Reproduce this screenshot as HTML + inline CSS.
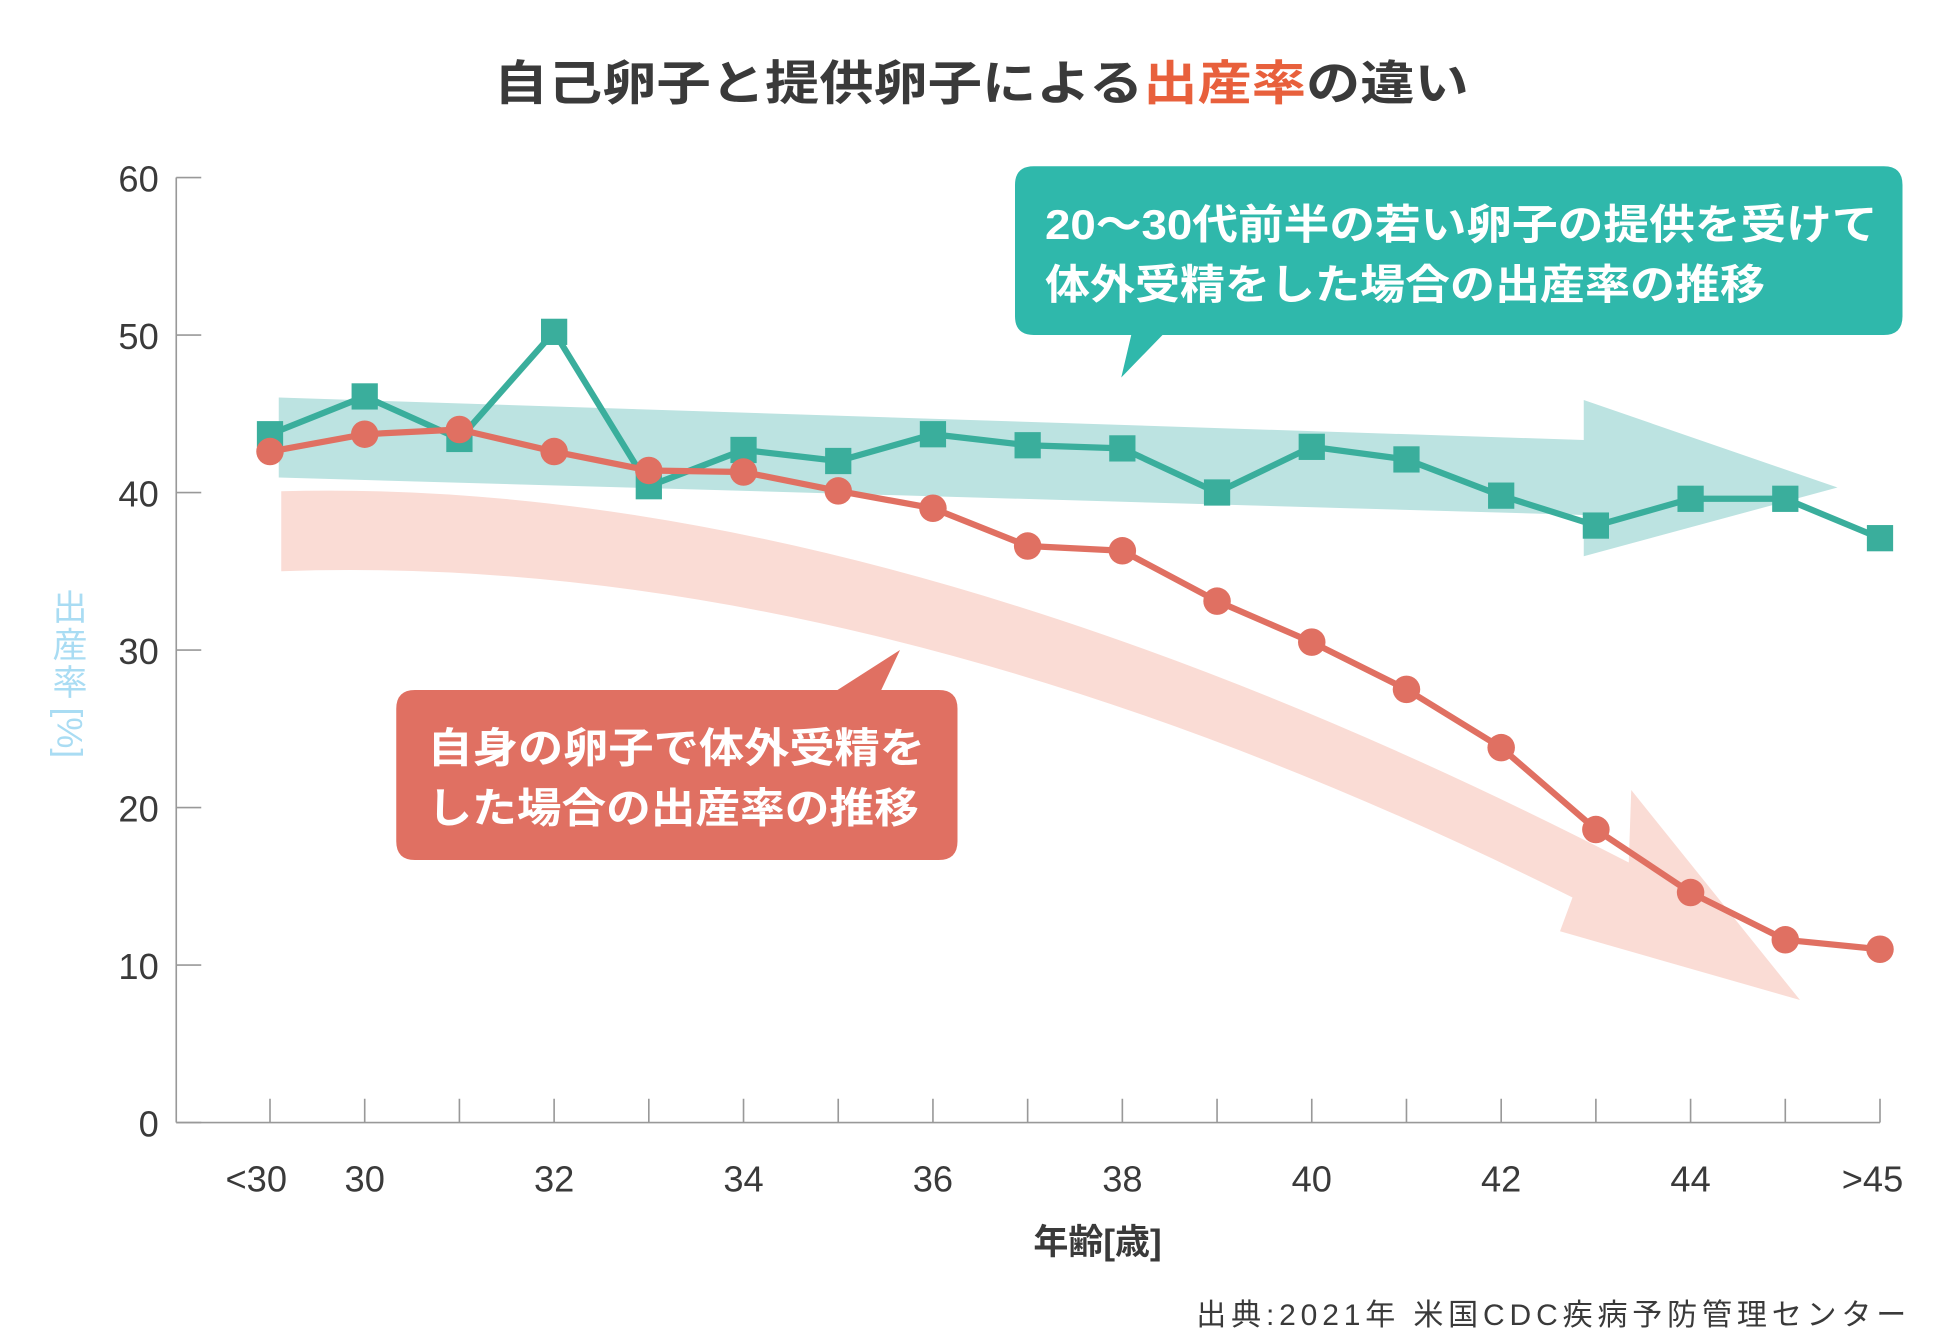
<!DOCTYPE html>
<html><head><meta charset="utf-8"><style>
html,body{margin:0;padding:0;background:#fff;}
svg{display:block;}
text{font-family:"Liberation Sans","Noto Sans CJK JP",sans-serif;}
</style></head><body>
<svg id="chart" width="1950" height="1344" viewBox="0 0 1560 1075.2" xmlns="http://www.w3.org/2000/svg">
<text x="395" y="80" font-size="38" font-weight="bold" fill="#3a3a3a" textLength="780" lengthAdjust="spacingAndGlyphs">自己卵子と提供卵子による<tspan fill="#e8603c">出産率</tspan>の違い</text>
<path d="M223,318 L1267,352 L1267,320 L1470,390 L1267,445 L1267,412 L223,382 Z" fill="#bce3e1"/>
<path d="M225,393 Q700,380 1303,690 L1305,632 L1440,800 L1248,745 L1258,718 Q700,440 225,457 Z" fill="#fadcd5"/>
<g id="axes"></g>
<g id="series"></g>
<path d="M827,133 H1507 Q1522,133 1522,148 V253 Q1522,268 1507,268 H930 L897,302 L905,268 H827 Q812,268 812,253 V148 Q812,133 827,133 Z" fill="#2fb8ab"/>
<text font-size="33" font-weight="bold" fill="#fff"><tspan x="836" y="191" textLength="666" lengthAdjust="spacingAndGlyphs">20～30代前半の若い卵子の提供を受けて</tspan><tspan x="836" y="239" textLength="576" lengthAdjust="spacingAndGlyphs">体外受精をした場合の出産率の推移</tspan></text>
<path d="M332,552 H670 L720,520 L705,552 H751 Q766,552 766,567 V673 Q766,688 751,688 H332 Q317,688 317,673 V567 Q317,552 332,552 Z" fill="#e07062"/>
<text font-size="33" font-weight="bold" fill="#fff"><tspan x="342" y="610" textLength="398" lengthAdjust="spacingAndGlyphs">自身の卵子で体外受精を</tspan><tspan x="342" y="658" textLength="393" lengthAdjust="spacingAndGlyphs">した場合の出産率の推移</tspan></text>
<g fill="#a9dcf3" font-size="28">
<text x="56" y="496" text-anchor="middle">出</text>
<text x="56" y="526" text-anchor="middle">産</text>
<text x="56" y="556" text-anchor="middle">率</text>
<text transform="translate(46,566) rotate(90)" font-size="28">[%]</text>
</g>
<text x="878" y="1003" text-anchor="middle" font-size="28" font-weight="bold" fill="#3a3a3a">年齢[歳]</text>
<text x="957" y="1060" font-size="24" fill="#3a3a3a" textLength="568" lengthAdjust="spacing">出典:2021年 米国CDC疾病予防管理センター</text>
</svg>
<script>
const categories=['<30','30','31','32','33','34','35','36','37','38','39','40','41','42','43','44','45','>45'];
const tickLabelIdx=[0,1,3,5,7,9,11,13,15,17];
const yTicks=[0,10,20,30,40,50,60];
const donorRates=[43.7,46.1,43.4,50.2,40.4,42.7,42.0,43.7,43.0,42.8,40.0,42.9,42.1,39.8,37.9,39.6,39.6,37.1];
const ownRates=[42.6,43.7,44.0,42.6,41.4,41.3,40.1,39.0,36.6,36.3,33.1,30.5,27.5,23.8,18.6,14.6,11.6,11.0];
const NS='http://www.w3.org/2000/svg';
const X0=216,X1=1504,Y0=898,Y60=142;
function xs(i){return X0+(X1-X0)*i/(categories.length-1);}
function ys(v){return Y0-(Y0-Y60)*v/60;}
function mk(tag,attrs,parent){const e=document.createElementNS(NS,tag);for(const k in attrs)e.setAttribute(k,attrs[k]);parent.appendChild(e);return e;}
const axes=document.getElementById('axes'),ser=document.getElementById('series');
let e=mk('line',{x1:141,y1:Y60,x2:141,y2:Y0,stroke:'#999','stroke-width':1.3},axes);


e=mk('line',{x1:141,y1:Y0,x2:X1,y2:Y0,stroke:'#999','stroke-width':1.3},axes);


yTicks.forEach(v=>{
  let t=mk('line',{x1:141,y1:ys(v),x2:161,y2:ys(v),stroke:'#999','stroke-width':1.3},axes);
  
  
  let l=mk('text',{x:127,y:ys(v)+11,'text-anchor':'end','font-size':29,fill:'#3a3a3a'},axes);
  l.textContent=v;
  
  
});
categories.forEach((c,i)=>{
  let t=mk('line',{x1:xs(i),y1:Y0-19,x2:xs(i),y2:Y0,stroke:'#999','stroke-width':1.3},axes);
  
  
});
tickLabelIdx.forEach(i=>{
  let l=mk('text',{x:xs(i)-(i===0?11:0)+(i===17?-6:0),y:953,'text-anchor':'middle','font-size':29,fill:'#3a3a3a'},axes);
  l.textContent=categories[i];
  
  
});
function pts(arr){return arr.map((v,i)=>xs(i)+','+ys(v)).join(' ');}
e=mk('polyline',{points:pts(donorRates),fill:'none',stroke:'#3aae9c','stroke-width':5,'stroke-linejoin':'round'},ser);


donorRates.forEach((v,i)=>{
  let m=mk('rect',{x:xs(i)-10.5,y:ys(v)-10.5,width:21,height:21,fill:'#3aae9c'},ser);
  
  
});
e=mk('polyline',{points:pts(ownRates),fill:'none',stroke:'#e07062','stroke-width':5,'stroke-linejoin':'round'},ser);


ownRates.forEach((v,i)=>{
  let m=mk('circle',{cx:xs(i),cy:ys(v),r:11,fill:'#e07062'},ser);
  
  
});
</script>
</body></html>
